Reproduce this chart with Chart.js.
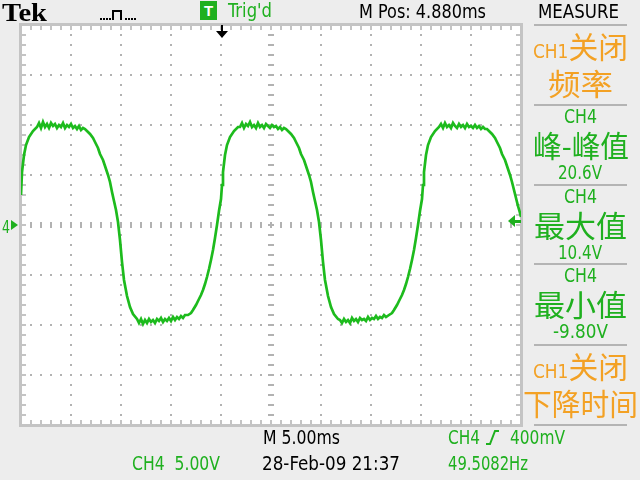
<!DOCTYPE html>
<html><head><meta charset="utf-8">
<script src="https://cdn.jsdelivr.net/npm/chart.js@4/dist/chart.umd.min.js"></script>
<style>
html,body{margin:0;padding:0;}
body{width:640px;height:480px;background:#ededed;position:relative;overflow:hidden;font-family:"Liberation Sans Narrow","DejaVu Sans Condensed","Liberation Sans",sans-serif;}
#c{position:absolute;left:0;top:0;}
.lbl{position:absolute;white-space:pre;line-height:1;transform-origin:0 0;}
.cjk{font-family:"Noto Sans CJK SC","Noto Sans CJK JP",sans-serif;}
.sep{position:absolute;height:2px;background:#b4b4b4;}
</style></head><body>
<canvas id="c" width="640" height="480"></canvas>
<script>
const timeMs = [
  0, 0.1, 0.3, 0.5, 0.8, 1.2, 1.6,
  1.8, 2.0, 2.2, 2.4, 2.6, 2.8, 3.0, 3.2, 3.4, 3.6, 3.8, 4.0, 4.2, 4.4, 4.6, 4.8, 5.0, 5.2, 5.4, 5.6, 5.8, 6.0, 6.2,
  6.4, 6.7, 6.9, 7.2, 7.4, 7.7, 7.9, 8.2, 8.4, 8.7, 8.9, 9.1, 9.3, 9.5, 9.7, 9.9, 10.1, 10.3, 10.6, 10.9, 11.2, 11.6,
  11.8, 12.0, 12.2, 12.4, 12.6, 12.8, 13.0, 13.2, 13.4, 13.6, 13.8, 14.0, 14.2, 14.4, 14.6, 14.8, 15.0, 15.2, 15.4, 15.6, 15.8, 16.0, 16.2, 16.4,
  16.7, 17.0, 17.2, 17.5, 17.7, 18.0, 18.2, 18.4, 18.6, 18.8, 19.0, 19.2, 19.4, 19.6, 19.8, 20.0,
  20.1, 20.2, 20.4, 20.6, 20.9, 21.3, 21.7,
  21.9, 22.1, 22.3, 22.5, 22.7, 22.9, 23.1, 23.3, 23.5, 23.7, 23.9, 24.1, 24.3, 24.5, 24.7, 24.9, 25.1, 25.3, 25.5, 25.7, 25.9, 26.1, 26.3,
  26.5, 26.8, 27.0, 27.3, 27.5, 27.8, 28.0, 28.3, 28.5, 28.8, 29.0, 29.2, 29.4, 29.6, 29.8, 30.0, 30.2, 30.4, 30.7, 31.0, 31.3, 31.7,
  31.9, 32.1, 32.3, 32.5, 32.7, 32.9, 33.1, 33.3, 33.5, 33.7, 33.9, 34.1, 34.3, 34.5, 34.7, 34.9, 35.1, 35.3, 35.5, 35.7, 35.9, 36.1, 36.3, 36.5,
  36.8, 37.1, 37.3, 37.6, 37.8, 38.1, 38.3, 38.5, 38.7, 38.9, 39.1, 39.3, 39.5, 39.7, 39.9, 40.1,
  40.2, 40.3, 40.5, 40.7, 41.0, 41.4, 41.8,
  42.0, 42.2, 42.4, 42.6, 42.8, 43.0, 43.2, 43.4, 43.6, 43.8, 44.0, 44.2, 44.4, 44.6, 44.8, 45.0, 45.2, 45.4, 45.6, 45.8, 46.0, 46.2, 46.4,
  46.6, 46.9, 47.1, 47.4, 47.6, 47.9, 48.1, 48.4, 48.6, 48.9, 49.1, 49.3, 49.5, 49.7, 49.9, 50.0
];
const ch4Volts = [
  3.0, 5.3, 7.0, 8.0, 8.8, 9.4, 9.8,
  10.2, 9.7, 10.3, 9.8, 10.1, 9.7, 10.2, 9.9, 10.1, 9.7, 10.0, 9.8, 10.2, 9.7, 10.0, 9.8, 10.1, 9.7, 9.9, 9.6, 9.9, 9.5, 9.7,
  9.6, 9.3, 9.1, 8.7, 8.3, 7.7, 7.1, 6.5, 5.9, 5.0, 4.3, 3.3, 2.4, 1.5, 0.3, -1.5, -3.7, -5.5, -7.1, -8.2, -8.9, -9.4,
  -9.8, -9.4, -9.9, -9.5, -9.8, -9.4, -9.7, -9.5, -9.8, -9.4, -9.6, -9.3, -9.7, -9.4, -9.6, -9.3, -9.6, -9.2, -9.5, -9.2, -9.4, -9.1, -9.3, -9.0,
  -9.0, -8.8, -8.5, -8.0, -7.6, -7.0, -6.5, -5.9, -5.2, -4.4, -3.5, -2.5, -1.3, 0.0, 1.4, 2.6,
  4.0, 5.3, 7.0, 8.0, 8.8, 9.4, 9.8,
  9.8, 10.2, 9.7, 10.1, 9.9, 10.3, 9.8, 10.0, 9.7, 10.2, 9.8, 10.0, 9.7, 10.1, 9.9, 9.7, 10.0, 9.8, 9.9, 9.6, 9.8, 9.5, 9.7,
  9.6, 9.3, 9.1, 8.7, 8.3, 7.7, 7.1, 6.5, 5.9, 5.0, 4.3, 3.3, 2.4, 1.5, 0.3, -1.5, -3.7, -5.5, -7.1, -8.2, -8.9, -9.4,
  -9.5, -9.8, -9.4, -9.7, -9.5, -9.8, -9.3, -9.6, -9.4, -9.7, -9.3, -9.5, -9.4, -9.6, -9.2, -9.5, -9.3, -9.4, -9.1, -9.4, -9.2, -9.3, -9.0, -9.2,
  -9.0, -8.8, -8.5, -8.0, -7.6, -7.0, -6.5, -5.9, -5.2, -4.4, -3.5, -2.5, -1.3, 0.0, 1.4, 2.6,
  4.0, 5.3, 7.0, 8.0, 8.8, 9.4, 9.8,
  10.1, 9.7, 10.2, 9.8, 10.0, 9.7, 10.2, 9.9, 9.7, 10.1, 9.8, 10.0, 9.7, 10.1, 9.8, 9.9, 9.7, 10.0, 9.7, 9.9, 9.6, 9.8, 9.6,
  9.6, 9.3, 9.1, 8.7, 8.3, 7.7, 7.1, 6.5, 5.9, 5.0, 4.3, 3.5, 2.7, 1.9, 1.2, 0.8
];
const timeRangeMs = [0, 50];      // 10 div x 5.00 ms
const voltRange = [-20, 20];      // 8 div x 5.00 V
const msPerDiv = 5;
const voltsPerDiv = 5;
const horizPosMs = 4.880;         // M Pos
const triggerLevelV = 0.4;        // CH4 trigger 400mV
const groundLevelV = 0;

const headerTexts = ["Tek", "T", "Trig'd", "M Pos: 4.880ms", "MEASURE"];
const footerTexts = ["M 5.00ms", "CH4", "400mV", "CH4  5.00V", "28-Feb-09 21:37", "49.5082Hz"];
const measureSources = ["CH1", "CH4", "CH4", "CH4", "CH1"];
const measureStates = ["关闭", "", "", "", "关闭"];
const measureNames = ["频率", "峰-峰值", "最大值", "最小值", "下降时间"];
const measureValues = ["", "20.6V", "10.4V", "-9.80V", ""];

// ---------------- colours ----------------
const GREEN = "#1fb01f", TRACE = "#1dbb1d", ORANGE = "#f3a124", GRID = "#b2b2b2", FRAME = "#c4c4c4";

// ---------------- graticule plugin ----------------
const scopePlugin = {
  id: "scope",
  beforeDatasetsDraw(chart) {
    const { ctx, chartArea: a, scales: { x, y } } = chart;
    ctx.save();
    ctx.fillStyle = "#ffffff";
    ctx.fillRect(a.left, a.top, a.right - a.left, a.bottom - a.top);
    const minorV = voltsPerDiv / 5, minorT = msPerDiv / 5;
    const cx = Math.round(x.getPixelForValue((timeRangeMs[0] + timeRangeMs[1]) / 2));
    const cy = Math.round(y.getPixelForValue(0));
    ctx.fillStyle = GRID;
    for (let t = timeRangeMs[0] + msPerDiv; t < timeRangeMs[1] - 1e-9; t += msPerDiv) {
      const px = Math.round(x.getPixelForValue(t));
      for (let v = voltRange[0] + minorV; v < voltRange[1] - 1e-9; v += minorV) {
        const py = Math.round(y.getPixelForValue(v));
        if (px === cx) ctx.fillRect(px - 3, py - 1, 6, 2);
        else ctx.fillRect(px - 1, py - 1, 2, 2);
      }
    }
    for (let v = voltRange[0] + voltsPerDiv; v < voltRange[1] - 1e-9; v += voltsPerDiv) {
      const py = Math.round(y.getPixelForValue(v));
      for (let t = timeRangeMs[0] + minorT; t < timeRangeMs[1] - 1e-9; t += minorT) {
        const px = Math.round(x.getPixelForValue(t));
        if (py === cy) ctx.fillRect(px - 1, py - 3, 2, 6);
        else ctx.fillRect(px - 1, py - 1, 2, 2);
      }
    }
    ctx.fillStyle = FRAME;
    ctx.fillRect(a.left - 2, a.top - 2, a.right - a.left + 3, 3);
    ctx.fillRect(a.left - 2, a.bottom - 1, a.right - a.left + 3, 3);
    ctx.fillRect(a.left - 2, a.top - 2, 3, a.bottom - a.top + 4);
    ctx.fillRect(a.right - 1, a.top - 2, 3, a.bottom - a.top + 4);
    for (let t = timeRangeMs[0] + minorT; t < timeRangeMs[1] - 1e-9; t += minorT) {
      const px = Math.round(x.getPixelForValue(t));
      ctx.fillRect(px - 1, a.top, 2, 5);
      ctx.fillRect(px - 1, a.bottom - 5, 2, 5);
    }
    for (let v = voltRange[0] + minorV; v < voltRange[1] - 1e-9; v += minorV) {
      const py = Math.round(y.getPixelForValue(v));
      ctx.fillRect(a.left, py - 1, 5, 2);
      ctx.fillRect(a.right - 5, py - 1, 5, 2);
    }
    ctx.restore();
  },
  afterDraw(chart) {
    const { ctx, chartArea: a, scales: { x, y } } = chart;
    ctx.save();
    const tx = Math.round(x.getPixelForValue((timeRangeMs[0] + timeRangeMs[1]) / 2 - horizPosMs));
    ctx.fillStyle = "#000";
    ctx.fillRect(tx - 1, a.top, 2, 8);
    ctx.beginPath();
    ctx.moveTo(tx - 6, a.top + 6); ctx.lineTo(tx + 6, a.top + 6); ctx.lineTo(tx, a.top + 13); ctx.closePath(); ctx.fill();
    const ly = Math.round(y.getPixelForValue(triggerLevelV));
    ctx.fillStyle = GREEN;
    ctx.beginPath();
    ctx.moveTo(a.right - 13, ly); ctx.lineTo(a.right - 6, ly - 6); ctx.lineTo(a.right - 6, ly + 6); ctx.closePath(); ctx.fill();
    ctx.fillRect(a.right - 7, ly - 1, 7, 3);
    const gy = Math.round(y.getPixelForValue(groundLevelV));
    ctx.beginPath();
    ctx.moveTo(11, gy - 5); ctx.lineTo(18, gy); ctx.lineTo(11, gy + 5); ctx.closePath(); ctx.fill();
    ctx.fillStyle = "#000";
    [100, 103, 106, 109, 125, 128, 131, 134].forEach(px => ctx.fillRect(px, 18, 2, 2));
    ctx.strokeStyle = "#000"; ctx.lineWidth = 2;
    ctx.beginPath(); ctx.moveTo(113, 20); ctx.lineTo(113, 11); ctx.lineTo(121, 11); ctx.lineTo(121, 20); ctx.stroke();
    ctx.strokeStyle = GREEN; ctx.lineWidth = 2;
    ctx.beginPath(); ctx.moveTo(486, 444); ctx.lineTo(490, 444); ctx.lineTo(495, 431); ctx.lineTo(499, 431); ctx.stroke();
    ctx.restore();
  }
};

new Chart(document.getElementById("c"), {
  type: "line",
  data: {
    datasets: [{
      data: timeMs.map((t, i) => ({ x: t, y: ch4Volts[i] })),
      borderColor: TRACE, borderWidth: 2.7, pointRadius: 0, tension: 0, fill: false
    }]
  },
  options: {
    responsive: false, animation: false, devicePixelRatio: 1,
    layout: { padding: { left: 21, top: 25, right: 119, bottom: 55 } },
    scales: {
      x: { type: "linear", min: timeRangeMs[0], max: timeRangeMs[1], display: false },
      y: { type: "linear", min: voltRange[0], max: voltRange[1], display: false }
    },
    plugins: { legend: { display: false }, tooltip: { enabled: false } }
  },
  plugins: [scopePlugin]
});

// ---------------- text (real HTML text) ----------------
const placed = [];
function label(text, opts) {
  const d = document.createElement("div");
  d.className = "lbl" + (opts.cls ? " " + opts.cls : "");
  d.style.fontSize = opts.fs + "px";
  d.style.color = opts.color || "#000";
  if (opts.weight) d.style.fontWeight = opts.weight;
  if (opts.family) d.style.fontFamily = opts.family;
  if (opts.html) d.innerHTML = opts.html; else d.textContent = text;
  d.style.top = (opts.cy - 0.5 * opts.fs) + "px";
  document.body.appendChild(d);
  placed.push({ d, opts });
  return d;
}
function fit() {
  placed.forEach(({ d, opts }) => {
    d.style.transform = "none";
    const w = d.getBoundingClientRect().width;
    const s = opts.w ? opts.w / w : 1;
    const left = opts.center !== undefined ? opts.center - (opts.w || w) / 2 : opts.x;
    d.style.left = left + "px";
    d.style.transform = "scaleX(" + s + ")";
  });
}

label(headerTexts[0], { x: 2, cy: 12.5, fs: 26, w: 45, weight: "bold", family: "'Liberation Serif','DejaVu Serif',serif" });
const tb = label(headerTexts[1], { x: 200, cy: 10.5, fs: 15, w: 17, color: "#fff", weight: "bold", family: "'Liberation Sans','DejaVu Sans',sans-serif" });
tb.style.background = GREEN; tb.style.height = "19px"; tb.style.lineHeight = "19px"; tb.style.top = "1px"; tb.style.textAlign = "center"; tb.style.width = "17px";
label(headerTexts[2], { x: 228, cy: 10.5, fs: 19, w: 44, color: GREEN });
label(headerTexts[3], { x: 359, cy: 11, fs: 19, w: 127 });
label(headerTexts[4], { x: 538, cy: 11, fs: 19, w: 81 });

label(footerTexts[0], { x: 263, cy: 437, fs: 20, w: 77 });
label(footerTexts[1], { x: 448, cy: 437, fs: 20, w: 32, color: GREEN });
label(footerTexts[2], { x: 510, cy: 437, fs: 20, w: 55, color: GREEN });
label(footerTexts[3], { x: 132, cy: 463, fs: 20, w: 88, color: GREEN });
label(footerTexts[4], { x: 262, cy: 463, fs: 20, w: 138 });
label(footerTexts[5], { x: 448, cy: 463, fs: 20, w: 80, color: GREEN });

const boxTops = [25, 105, 185, 264, 345, 425];
boxTops.forEach(yy => {
  const s = document.createElement("div"); s.className = "sep";
  s.style.left = "534px"; s.style.width = "93px"; s.style.top = (yy - 1) + "px";
  document.body.appendChild(s);
});
const nameWidths = [65, 96, 93, 93, 115];
const valueWidths = [0, 44, 44, 55, 0];
measureSources.forEach((src, i) => {
  const y0 = boxTops[i];
  if (measureStates[i]) {
    label("", { center: 580.5, cy: y0 + 20, fs: 30, w: 95, color: ORANGE, cls: "cjk",
      html: '<span style="font-family:\'Liberation Sans Narrow\',\'DejaVu Sans Condensed\',sans-serif;font-size:19px">' + src + '</span>' + measureStates[i] });
    label(measureNames[i], { center: 580, cy: y0 + 57, fs: 30, w: nameWidths[i], color: ORANGE, cls: "cjk" });
  } else {
    label(src, { center: 580, cy: y0 + 11, fs: 19, w: 33, color: GREEN });
    label(measureNames[i], { center: 580.5, cy: y0 + 39, fs: 30, w: nameWidths[i], color: GREEN, cls: "cjk" });
    label(measureValues[i], { center: 580, cy: y0 + 67, fs: 19, w: valueWidths[i], color: GREEN });
  }
});
label("4", { x: 2, cy: 227, fs: 17, w: 8, color: GREEN });

fit();
if (document.fonts && document.fonts.ready) document.fonts.ready.then(fit);
</script>
</body></html>
